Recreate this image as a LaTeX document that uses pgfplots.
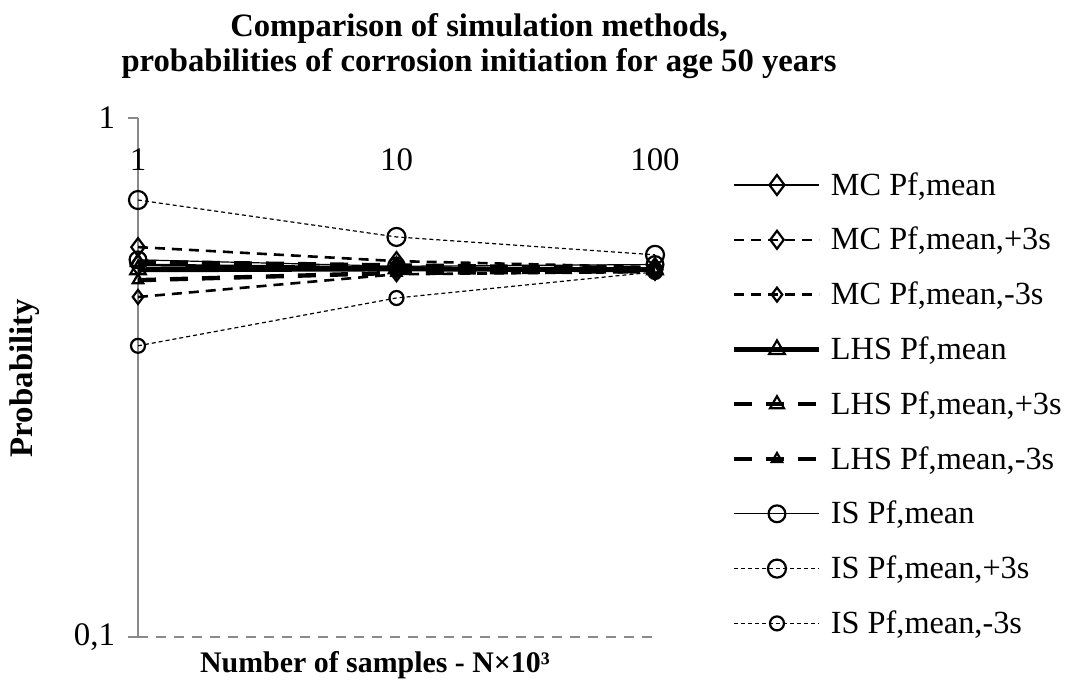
\documentclass[border=0pt]{standalone}
\usepackage{pgfplots}
\pgfplotsset{compat=1.18}
\usepackage{fontspec}
\setmainfont{Liberation Serif}
\definecolor{axisgray}{RGB}{137,137,137}

\begin{document}
\begin{tikzpicture}
\useasboundingbox (0,0) rectangle (533.5bp,344.5bp);
\begin{axis}[
  at={(69bp,26bp)}, anchor=south west,
  scale only axis, width=258.5bp, height=259.5bp,
  xmode=log, ymode=log,
  xmin=1, xmax=100, ymin=0.1, ymax=1,
  axis lines*=left,
  x axis line style={axisgray, line width=1bp, dash pattern=on 5bp off 4bp},
  y axis line style={axisgray, line width=1.2bp},
  xtick={1,10,100}, xticklabels={1,10,100},
  ytick={0.1,1}, yticklabels={{0,1},{1}},
  xminorticks=false, yminorticks=false,
  tick align=outside,
  major tick length=5bp,
  xtick style={draw=none},
  ytick style={axisgray, line width=1.2bp},
  xticklabel style={anchor=center, yshift=243.5bp},
  yticklabel style={anchor=east, xshift=-3bp},
  tick label style={font=\fontsize{16.5}{19}\selectfont},
  title={Comparison of simulation methods,\\probabilities of corrosion initiation for age 50 years},
  title style={at={(axis description cs:0.6596,1.1156)}, anchor=center, yshift=0pt,
    align=center, font=\bfseries\fontsize{16.4}{17.3}\selectfont},
  xlabel={Number of samples - N×10³},
  xlabel style={at={(axis description cs:0.4584,-0.054)}, anchor=center,
    font=\bfseries\fontsize{15}{18}\selectfont},
  ylabel={Probability},
  ylabel style={at={(axis description cs:-0.2186,0.499)}, anchor=center,
    font=\bfseries\fontsize{16.5}{19}\selectfont},
  legend cell align=left,
  legend style={at={(axis description cs:1.1489,0.8921)}, anchor=north west,
    draw=none, fill=none, inner sep=0pt, outer sep=0pt,
    row sep=16.4bp, column sep=4.5bp,
    nodes={inner sep=0pt, text height=10.5bp, text depth=0.5bp},
    font=\fontsize{16.2}{19}\selectfont},
  legend image code/.code={
    \draw[mark repeat=2, mark phase=2]
      plot coordinates {(0bp,0bp) (21.25bp,0bp) (42.5bp,0bp)};
  },
  mark options={solid, fill=none, line width=1.1bp},
  every axis plot/.append style={black},
]
% Monte Carlo
\addplot[line width=1.3bp, mark=diamond, mark size=5bp]
  coordinates {(1,0.521) (10,0.515) (100,0.510)};
\addlegendentry{MC Pf,mean}
\addplot[line width=1.3bp, dash pattern=on 5bp off 3.5bp, mark=diamond, mark size=4.5bp]
  coordinates {(1,0.564) (10,0.530) (100,0.516)};
\addlegendentry{MC Pf,mean,+3s}
\addplot[line width=1.3bp, dash pattern=on 5bp off 3.5bp, mark=diamond, mark size=3.5bp]
  coordinates {(1,0.452) (10,0.500) (100,0.505)};
\addlegendentry{MC Pf,mean,-3s}
% Latin hypercube sampling
\addplot[line width=2.5bp, mark=triangle, mark size=4.5bp]
  coordinates {(1,0.510) (10,0.512) (100,0.510)};
\addlegendentry{LHS Pf,mean}
\addplot[line width=2.2bp, dash pattern=on 9bp off 7bp, mark=triangle, mark size=4bp]
  coordinates {(1,0.528) (10,0.520) (100,0.513)};
\addlegendentry{LHS Pf,mean,+3s}
\addplot[line width=2.2bp, dash pattern=on 9bp off 7bp, mark=triangle, mark size=3bp]
  coordinates {(1,0.487) (10,0.503) (100,0.507)};
\addlegendentry{LHS Pf,mean,-3s}
% Importance sampling
\addplot[line width=0.6bp, mark=o, mark size=4.2bp]
  coordinates {(1,0.533) (10,0.518) (100,0.522)};
\addlegendentry{IS Pf,mean}
\addplot[line width=0.6bp, dash pattern=on 2bp off 1.5bp, mark=o, mark size=4.5bp]
  coordinates {(1,0.695) (10,0.590) (100,0.545)};
\addlegendentry{IS Pf,mean,+3s}
\addplot[line width=0.6bp, dash pattern=on 2bp off 1.5bp, mark=o, mark size=3.5bp]
  coordinates {(1,0.364) (10,0.450) (100,0.505)};
\addlegendentry{IS Pf,mean,-3s}
\end{axis}
\end{tikzpicture}
\end{document}
